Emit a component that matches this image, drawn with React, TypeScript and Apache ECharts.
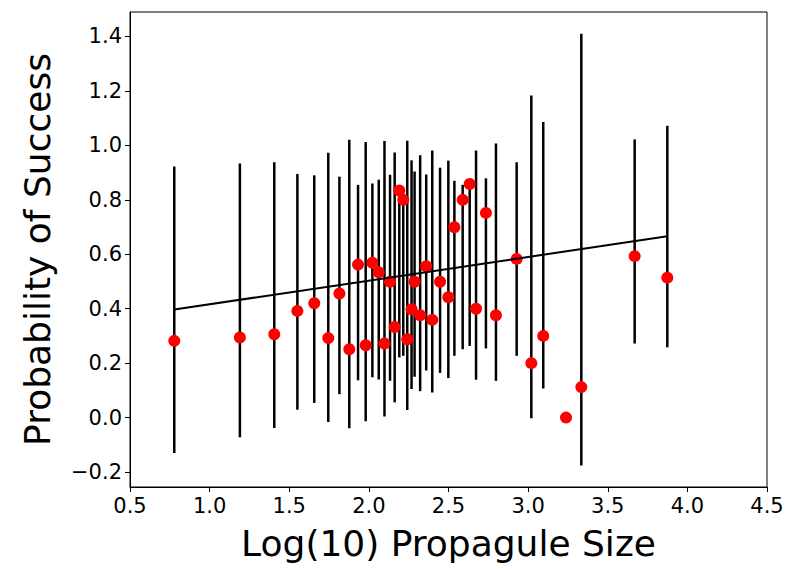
import React, { useEffect, useRef } from "react";
import * as echarts from "echarts";

// Observations: log10 propagule size and probability of success
const sizeX = [
  0.778, 1.19, 1.406, 1.551, 1.657, 1.745, 1.815, 1.877, 1.932, 1.98,
  2.022, 2.062, 2.098, 2.133, 2.162, 2.191, 2.216, 2.241, 2.268, 2.287,
  2.322, 2.36, 2.398, 2.447, 2.499, 2.537, 2.589, 2.633, 2.673, 2.735,
  2.798, 2.928, 3.02, 3.095, 3.238, 3.334, 3.669, 3.874,
];
const success = [
  0.282, 0.294, 0.306, 0.392, 0.42, 0.292, 0.456, 0.251, 0.562, 0.266,
  0.569, 0.534, 0.272, 0.499, 0.333, 0.834, 0.8, 0.288, 0.398, 0.499,
  0.376, 0.556, 0.359, 0.499, 0.442, 0.699, 0.8, 0.858, 0.4, 0.752,
  0.376, 0.583, 0.2, 0.3, 0.0, 0.112, 0.593, 0.514,
];
// Interval bounds around the fit (null = no interval drawn)
const intervalLow = [
  -0.13, -0.072, -0.038, 0.029, 0.054, -0.016, 0.086, -0.039, 0.137, -0.013,
  0.148, 0.14, 0.004, 0.135, 0.056, 0.221, 0.227, 0.028, 0.105, 0.15,
  0.097, 0.173, 0.092, 0.164, 0.145, 0.227, 0.251, 0.263, 0.139, 0.254,
  0.135, 0.227, -0.002, 0.107, null, -0.176, 0.272, 0.258,
];
const intervalHigh = [
  0.922, 0.933, 0.938, 0.895, 0.89, 0.973, 0.885, 1.021, 0.855, 1.012,
  0.86, 0.874, 1.016, 0.892, 0.974, 0.843, 0.818, 1.017, 0.945, 0.904,
  0.964, 0.893, 0.981, 0.918, 0.944, 0.87, 0.855, 0.862, 0.981, 0.879,
  1.007, 0.938, 1.183, 1.086, null, 1.41, 1.022, 1.072,
];
// Fitted regression line end points
const fitX = [0.778, 3.874];
const fitY = [0.397, 0.666];
// Tick values
const yTicks = [-0.2, 0, 0.2, 0.4, 0.6, 0.8, 1.0, 1.2, 1.4];

const FONT = "DejaVu Sans";

export default function App() {
  const ref = useRef<HTMLDivElement>(null);
  useEffect(() => {
    if (!ref.current) return;
    const chart = echarts.init(ref.current, null, { renderer: "svg" });
    const bars: number[][] = [];
    sizeX.forEach((x, i) => {
      if (intervalLow[i] != null && intervalHigh[i] != null) {
        bars.push([x, intervalLow[i] as number, intervalHigh[i] as number]);
      }
    });
    const fmt = (v: number) =>
      v < 0 ? "\u2212" + Math.abs(v).toFixed(1) : v.toFixed(1);
    chart.setOption({
      animation: false,
      grid: {
        left: 130,
        right: 20,
        top: 12,
        bottom: 82,
        show: true,
        borderColor: "#000",
        borderWidth: 1,
        backgroundColor: "transparent",
      },
      xAxis: {
        type: "value",
        min: 0.5,
        max: 4.5,
        interval: 0.5,
        name: "Log(10) Propagule Size",
        nameLocation: "middle",
        nameGap: 38,
        nameTextStyle: { fontFamily: FONT, fontSize: 36, color: "#000" },
        axisLine: { show: true, onZero: false, lineStyle: { color: "#000", width: 1 } },
        axisTick: { show: true, inside: false, length: 5, lineStyle: { color: "#000", width: 1 } },
        axisLabel: {
          fontFamily: FONT,
          fontSize: 21,
          color: "#000",
          margin: 8,
          formatter: (v: number) => fmt(v),
        },
        splitLine: { show: false },
      },
      yAxis: {
        type: "value",
        min: -0.255,
        max: 1.49,
        name: "Probability of Success",
        nameLocation: "middle",
        nameGap: 75,
        nameTextStyle: { fontFamily: FONT, fontSize: 36, color: "#000" },
        axisLine: { show: true, onZero: false, lineStyle: { color: "#000", width: 1 } },
        axisTick: {
          show: true,
          inside: false,
          length: 5,
          customValues: yTicks,
          lineStyle: { color: "#000", width: 1 },
        },
        axisLabel: {
          fontFamily: FONT,
          fontSize: 21,
          color: "#000",
          margin: 8,
          customValues: yTicks,
          formatter: (v: number) => fmt(v),
        },
        splitLine: { show: false },
      },
      series: [
        {
          type: "custom",
          z: 2,
          data: bars,
          renderItem: (params: any, api: any) => {
            const x = api.value(0);
            const p1 = api.coord([x, api.value(1)]);
            const p2 = api.coord([x, api.value(2)]);
            return {
              type: "line",
              shape: { x1: p1[0], y1: p1[1], x2: p2[0], y2: p2[1] },
              style: { stroke: "#000", lineWidth: 2.5 },
            };
          },
        },
        {
          type: "scatter",
          z: 3,
          symbol: "circle",
          symbolSize: 12,
          data: sizeX.map((x, i) => [x, success[i]]),
          itemStyle: { color: "#ff0000", opacity: 1 },
        },
        {
          type: "line",
          z: 4,
          data: fitX.map((x, i) => [x, fitY[i]]),
          symbol: "none",
          lineStyle: { color: "#000", width: 2 },
        },
      ],
    });
    return () => chart.dispose();
  }, []);
  return (
    <div
      ref={ref}
      style={{ position: "absolute", left: 0, top: 0, width: 787, height: 569 }}
    />
  );
}
